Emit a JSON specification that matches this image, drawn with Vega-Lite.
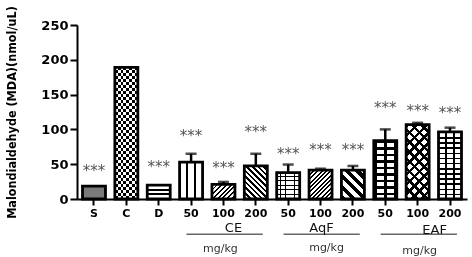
{
"$schema": "https://vega.github.io/schema/vega-lite/v6.json",
"width": 390, "height": 174,
"autosize": {"type": "none"},
"padding": {"left": 77, "top": 25, "right": 5, "bottom": 58},
"background": "white",
"config": {"view": {"stroke": null}, "axis": {"grid": false}},
"datasets": {"main": [
{"g":"S","v":18.5,"err":null,"star":46.4},
{"g":"C","v":189,"err":null,"star":null},
{"g":"D","v":20,"err":null,"star":51.7},
{"g":"CE50","v":53,"err":65,"star":96.7},
{"g":"CE100","v":21,"err":24.5,"star":49.9},
{"g":"CE200","v":47.5,"err":65,"star":101.6},
{"g":"AqF50","v":38,"err":49.5,"star":70.4},
{"g":"AqF100","v":41.5,"err":43.5,"star":76.1},
{"g":"AqF200","v":41.5,"err":47.5,"star":76.1},
{"g":"EAF50","v":84,"err":100,"star":136.5},
{"g":"EAF100","v":107,"err":109.5,"star":132.6},
{"g":"EAF200","v":96.5,"err":102.5,"star":128.9}
]},
"layer": [
{
"data": {"name": "main"},
"mark": {"type": "bar", "strokeWidth": 0},
"encoding": {
"x": {"field": "g", "type": "nominal",
 "scale": {"domain": ["S","C","D","CE50","CE100","CE200","AqF50","AqF100","AqF200","EAF50","EAF100","EAF200"], "paddingInner": 0.29, "paddingOuter": 0.17},
 "axis": {"title": null, "labelAngle": 0, "labelFont": "DejaVu Sans", "labelFontWeight": "bold", "labelFontSize": 11, "labelColor": "#000", "labelPadding": 2, "domainColor": "#000", "domainWidth": 2, "tickColor": "#000", "tickWidth": 2, "tickSize": 6, "bandPosition": 0.5,
 "labelExpr": "replace(replace(replace(datum.label,'CE',''),'AqF',''),'EAF','')"}},
"y": {"field": "v", "type": "quantitative",
 "scale": {"domain": [0, 250], "nice": false},
 "axis": {"title": "Malondialdehyde (MDA)(nmol/uL)", "values": [0,50,100,150,200,250], "labelOverlap": false, "labelFont": "DejaVu Sans", "labelFontWeight": "bold", "labelFontSize": 13, "labelColor": "#000", "labelPadding": 2, "domainColor": "#000", "domainWidth": 2, "tickColor": "#000", "tickWidth": 2, "tickSize": 7, "titleFont": "DejaVu Sans Condensed", "titleFontWeight": "bold", "titleFontSize": 12.5, "titleColor": "#000", "titlePadding": 22}},
"fill": {"condition": [
 {"test": "datum.g==='S'", "value": "#7a7a7a"},
 {"test": "datum.g==='C'", "value": {"gradient":"linear","x1":0,"y1":0,"x2":1,"y2":0,"stops":[
  {"offset":0,"color":"#000"},{"offset":0.125,"color":"#000"},{"offset":0.125,"color":"#fff"},{"offset":0.25,"color":"#fff"},
  {"offset":0.25,"color":"#000"},{"offset":0.375,"color":"#000"},{"offset":0.375,"color":"#fff"},{"offset":0.5,"color":"#fff"},
  {"offset":0.5,"color":"#000"},{"offset":0.625,"color":"#000"},{"offset":0.625,"color":"#fff"},{"offset":0.75,"color":"#fff"},
  {"offset":0.75,"color":"#000"},{"offset":0.875,"color":"#000"},{"offset":0.875,"color":"#fff"},{"offset":1,"color":"#fff"}]}},
 {"test": "datum.g==='D'", "value": {"gradient":"linear","x1":0,"y1":0,"x2":0,"y2":1,"stops":[
  {"offset":0,"color":"#fff"},{"offset":0.28,"color":"#fff"},{"offset":0.28,"color":"#000"},{"offset":0.4,"color":"#000"},
  {"offset":0.4,"color":"#fff"},{"offset":0.6,"color":"#fff"},{"offset":0.6,"color":"#000"},{"offset":0.72,"color":"#000"},
  {"offset":0.72,"color":"#fff"},{"offset":1,"color":"#fff"}]}},
 {"test": "datum.g==='CE50'", "value": {"gradient":"linear","x1":0,"y1":0,"x2":1,"y2":0,"stops":[
  {"offset":0,"color":"#fff"},{"offset":0.3,"color":"#fff"},{"offset":0.3,"color":"#000"},{"offset":0.38,"color":"#000"},
  {"offset":0.38,"color":"#fff"},{"offset":0.62,"color":"#fff"},{"offset":0.62,"color":"#000"},{"offset":0.7,"color":"#000"},
  {"offset":0.7,"color":"#fff"},{"offset":1,"color":"#fff"}]}},
 {"test": "datum.g==='CE100'", "value": {"gradient":"linear","x1":0,"y1":0,"x2":1.165,"y2":0.74,"stops":[
  {"offset":0,"color":"#000"},{"offset":0.05,"color":"#000"},{"offset":0.05,"color":"#fff"},{"offset":0.125,"color":"#fff"},
  {"offset":0.125,"color":"#000"},{"offset":0.175,"color":"#000"},{"offset":0.175,"color":"#fff"},{"offset":0.25,"color":"#fff"},
  {"offset":0.25,"color":"#000"},{"offset":0.3,"color":"#000"},{"offset":0.3,"color":"#fff"},{"offset":0.375,"color":"#fff"},
  {"offset":0.375,"color":"#000"},{"offset":0.425,"color":"#000"},{"offset":0.425,"color":"#fff"},{"offset":0.5,"color":"#fff"},
  {"offset":0.5,"color":"#000"},{"offset":0.55,"color":"#000"},{"offset":0.55,"color":"#fff"},{"offset":0.625,"color":"#fff"},
  {"offset":0.625,"color":"#000"},{"offset":0.675,"color":"#000"},{"offset":0.675,"color":"#fff"},{"offset":0.75,"color":"#fff"},
  {"offset":0.75,"color":"#000"},{"offset":0.8,"color":"#000"},{"offset":0.8,"color":"#fff"},{"offset":0.875,"color":"#fff"},
  {"offset":0.875,"color":"#000"},{"offset":0.925,"color":"#000"},{"offset":0.925,"color":"#fff"},{"offset":1,"color":"#fff"}]}},
 {"test": "datum.g==='CE200'", "value": {"gradient":"linear","x1":0,"y1":1,"x2":0.794,"y2":-0.143,"stops":[
  {"offset":0,"color":"#000"},{"offset":0.045,"color":"#000"},{"offset":0.045,"color":"#fff"},{"offset":0.1,"color":"#fff"},
  {"offset":0.1,"color":"#000"},{"offset":0.145,"color":"#000"},{"offset":0.145,"color":"#fff"},{"offset":0.2,"color":"#fff"},
  {"offset":0.2,"color":"#000"},{"offset":0.245,"color":"#000"},{"offset":0.245,"color":"#fff"},{"offset":0.3,"color":"#fff"},
  {"offset":0.3,"color":"#000"},{"offset":0.345,"color":"#000"},{"offset":0.345,"color":"#fff"},{"offset":0.4,"color":"#fff"},
  {"offset":0.4,"color":"#000"},{"offset":0.445,"color":"#000"},{"offset":0.445,"color":"#fff"},{"offset":0.5,"color":"#fff"},
  {"offset":0.5,"color":"#000"},{"offset":0.545,"color":"#000"},{"offset":0.545,"color":"#fff"},{"offset":0.6,"color":"#fff"},
  {"offset":0.6,"color":"#000"},{"offset":0.645,"color":"#000"},{"offset":0.645,"color":"#fff"},{"offset":0.7,"color":"#fff"},
  {"offset":0.7,"color":"#000"},{"offset":0.745,"color":"#000"},{"offset":0.745,"color":"#fff"},{"offset":0.8,"color":"#fff"},
  {"offset":0.8,"color":"#000"},{"offset":0.845,"color":"#000"},{"offset":0.845,"color":"#fff"},{"offset":0.9,"color":"#fff"},
  {"offset":0.9,"color":"#000"},{"offset":0.945,"color":"#000"},{"offset":0.945,"color":"#fff"},{"offset":1,"color":"#fff"}]}},
 {"test": "datum.g==='AqF50'", "value": {"gradient":"linear","x1":0,"y1":0,"x2":1,"y2":0,"stops":[
  {"offset":0,"color":"#fff"},{"offset":0.16,"color":"#fff"},{"offset":0.16,"color":"#000"},{"offset":0.2,"color":"#000"},
  {"offset":0.2,"color":"#fff"},{"offset":0.36,"color":"#fff"},{"offset":0.36,"color":"#000"},{"offset":0.4,"color":"#000"},
  {"offset":0.4,"color":"#fff"},{"offset":0.56,"color":"#fff"},{"offset":0.56,"color":"#000"},{"offset":0.6,"color":"#000"},
  {"offset":0.6,"color":"#fff"},{"offset":0.76,"color":"#fff"},{"offset":0.76,"color":"#000"},{"offset":0.8,"color":"#000"},
  {"offset":0.8,"color":"#fff"},{"offset":1,"color":"#fff"}]}},
 {"test": "datum.g==='AqF100'", "value": {"gradient":"linear","x1":0,"y1":0,"x2":0.875,"y2":1.1,"stops":[
  {"offset":0,"color":"#000"},{"offset":0.0417,"color":"#000"},{"offset":0.0417,"color":"#fff"},{"offset":0.0833,"color":"#fff"},
  {"offset":0.0833,"color":"#000"},{"offset":0.125,"color":"#000"},{"offset":0.125,"color":"#fff"},{"offset":0.1667,"color":"#fff"},
  {"offset":0.1667,"color":"#000"},{"offset":0.2083,"color":"#000"},{"offset":0.2083,"color":"#fff"},{"offset":0.25,"color":"#fff"},
  {"offset":0.25,"color":"#000"},{"offset":0.2917,"color":"#000"},{"offset":0.2917,"color":"#fff"},{"offset":0.3333,"color":"#fff"},
  {"offset":0.3333,"color":"#000"},{"offset":0.375,"color":"#000"},{"offset":0.375,"color":"#fff"},{"offset":0.4167,"color":"#fff"},
  {"offset":0.4167,"color":"#000"},{"offset":0.4583,"color":"#000"},{"offset":0.4583,"color":"#fff"},{"offset":0.5,"color":"#fff"},
  {"offset":0.5,"color":"#000"},{"offset":0.5417,"color":"#000"},{"offset":0.5417,"color":"#fff"},{"offset":0.5833,"color":"#fff"},
  {"offset":0.5833,"color":"#000"},{"offset":0.625,"color":"#000"},{"offset":0.625,"color":"#fff"},{"offset":0.6667,"color":"#fff"},
  {"offset":0.6667,"color":"#000"},{"offset":0.7083,"color":"#000"},{"offset":0.7083,"color":"#fff"},{"offset":0.75,"color":"#fff"},
  {"offset":0.75,"color":"#000"},{"offset":0.7917,"color":"#000"},{"offset":0.7917,"color":"#fff"},{"offset":0.8333,"color":"#fff"},
  {"offset":0.8333,"color":"#000"},{"offset":0.875,"color":"#000"},{"offset":0.875,"color":"#fff"},{"offset":0.9167,"color":"#fff"},
  {"offset":0.9167,"color":"#000"},{"offset":0.9583,"color":"#000"},{"offset":0.9583,"color":"#fff"},{"offset":1,"color":"#fff"}]}},
 {"test": "datum.g==='AqF200'", "value": {"gradient":"linear","x1":0,"y1":1,"x2":0.875,"y2":-0.1,"stops":[
  {"offset":0,"color":"#000"},{"offset":0.1,"color":"#000"},{"offset":0.1,"color":"#fff"},{"offset":0.2,"color":"#fff"},
  {"offset":0.2,"color":"#000"},{"offset":0.3,"color":"#000"},{"offset":0.3,"color":"#fff"},{"offset":0.4,"color":"#fff"},
  {"offset":0.4,"color":"#000"},{"offset":0.5,"color":"#000"},{"offset":0.5,"color":"#fff"},{"offset":0.6,"color":"#fff"},
  {"offset":0.6,"color":"#000"},{"offset":0.7,"color":"#000"},{"offset":0.7,"color":"#fff"},{"offset":0.8,"color":"#fff"},
  {"offset":0.8,"color":"#000"},{"offset":0.9,"color":"#000"},{"offset":0.9,"color":"#fff"},{"offset":1,"color":"#fff"}]}},
 {"test": "datum.g==='EAF50'", "value": {"gradient":"linear","x1":0,"y1":0,"x2":1,"y2":0,"stops":[
  {"offset":0,"color":"#000"},{"offset":0.12,"color":"#000"},{"offset":0.12,"color":"#fff"},{"offset":0.44,"color":"#fff"},
  {"offset":0.44,"color":"#000"},{"offset":0.56,"color":"#000"},{"offset":0.56,"color":"#fff"},{"offset":0.88,"color":"#fff"},
  {"offset":0.88,"color":"#000"},{"offset":1,"color":"#000"}]}},
 {"test": "datum.g==='EAF100'", "value": {"gradient":"linear","x1":0,"y1":0,"x2":0.369,"y2":1.195,"stops":[
  {"offset":0,"color":"#000"},{"offset":0.035,"color":"#000"},{"offset":0.035,"color":"#fff"},{"offset":0.1,"color":"#fff"},
  {"offset":0.1,"color":"#000"},{"offset":0.135,"color":"#000"},{"offset":0.135,"color":"#fff"},{"offset":0.2,"color":"#fff"},
  {"offset":0.2,"color":"#000"},{"offset":0.235,"color":"#000"},{"offset":0.235,"color":"#fff"},{"offset":0.3,"color":"#fff"},
  {"offset":0.3,"color":"#000"},{"offset":0.335,"color":"#000"},{"offset":0.335,"color":"#fff"},{"offset":0.4,"color":"#fff"},
  {"offset":0.4,"color":"#000"},{"offset":0.435,"color":"#000"},{"offset":0.435,"color":"#fff"},{"offset":0.5,"color":"#fff"},
  {"offset":0.5,"color":"#000"},{"offset":0.535,"color":"#000"},{"offset":0.535,"color":"#fff"},{"offset":0.6,"color":"#fff"},
  {"offset":0.6,"color":"#000"},{"offset":0.635,"color":"#000"},{"offset":0.635,"color":"#fff"},{"offset":0.7,"color":"#fff"},
  {"offset":0.7,"color":"#000"},{"offset":0.735,"color":"#000"},{"offset":0.735,"color":"#fff"},{"offset":0.8,"color":"#fff"},
  {"offset":0.8,"color":"#000"},{"offset":0.835,"color":"#000"},{"offset":0.835,"color":"#fff"},{"offset":0.9,"color":"#fff"},
  {"offset":0.9,"color":"#000"},{"offset":0.935,"color":"#000"},{"offset":0.935,"color":"#fff"},{"offset":1,"color":"#fff"}]}},
 {"test": "datum.g==='EAF200'", "value": {"gradient":"linear","x1":0,"y1":0,"x2":0,"y2":1,"stops":[
  {"offset":0,"color":"#000"},{"offset":0.0231,"color":"#000"},{"offset":0.0231,"color":"#fff"},{"offset":0.0769,"color":"#fff"},
  {"offset":0.0769,"color":"#000"},{"offset":0.1,"color":"#000"},{"offset":0.1,"color":"#fff"},{"offset":0.1538,"color":"#fff"},
  {"offset":0.1538,"color":"#000"},{"offset":0.1769,"color":"#000"},{"offset":0.1769,"color":"#fff"},{"offset":0.2308,"color":"#fff"},
  {"offset":0.2308,"color":"#000"},{"offset":0.2538,"color":"#000"},{"offset":0.2538,"color":"#fff"},{"offset":0.3077,"color":"#fff"},
  {"offset":0.3077,"color":"#000"},{"offset":0.3308,"color":"#000"},{"offset":0.3308,"color":"#fff"},{"offset":0.3846,"color":"#fff"},
  {"offset":0.3846,"color":"#000"},{"offset":0.4077,"color":"#000"},{"offset":0.4077,"color":"#fff"},{"offset":0.4615,"color":"#fff"},
  {"offset":0.4615,"color":"#000"},{"offset":0.4846,"color":"#000"},{"offset":0.4846,"color":"#fff"},{"offset":0.5385,"color":"#fff"},
  {"offset":0.5385,"color":"#000"},{"offset":0.5615,"color":"#000"},{"offset":0.5615,"color":"#fff"},{"offset":0.6154,"color":"#fff"},
  {"offset":0.6154,"color":"#000"},{"offset":0.6385,"color":"#000"},{"offset":0.6385,"color":"#fff"},{"offset":0.6923,"color":"#fff"},
  {"offset":0.6923,"color":"#000"},{"offset":0.7154,"color":"#000"},{"offset":0.7154,"color":"#fff"},{"offset":0.7692,"color":"#fff"},
  {"offset":0.7692,"color":"#000"},{"offset":0.7923,"color":"#000"},{"offset":0.7923,"color":"#fff"},{"offset":0.8462,"color":"#fff"},
  {"offset":0.8462,"color":"#000"},{"offset":0.8692,"color":"#000"},{"offset":0.8692,"color":"#fff"},{"offset":0.9231,"color":"#fff"},
  {"offset":0.9231,"color":"#000"},{"offset":0.9462,"color":"#000"},{"offset":0.9462,"color":"#fff"},{"offset":1,"color":"#fff"}]}}
 ], "value": "#fff"}
}
},
{
"data": {"name": "main"},
"transform": [{"filter": "indexof(['AqF50','EAF50','EAF100','EAF200'], datum.g) >= 0"}],
"mark": {"type": "bar", "strokeWidth": 0, "blend": "multiply"},
"encoding": {
"x": {"field": "g", "type": "nominal"},
"y": {"field": "v", "type": "quantitative", "axis": {"values": [0,50,100,150,200,250]}},
"fill": {"condition": [
 {"test": "datum.g==='AqF50'", "value": {"gradient":"linear","x1":0,"y1":0,"x2":0,"y2":1,"stops":[
  {"offset":0,"color":"#fff"},{"offset":0.133,"color":"#fff"},{"offset":0.133,"color":"#000"},{"offset":0.1667,"color":"#000"},
  {"offset":0.1667,"color":"#fff"},{"offset":0.3,"color":"#fff"},{"offset":0.3,"color":"#000"},{"offset":0.3333,"color":"#000"},
  {"offset":0.3333,"color":"#fff"},{"offset":0.4667,"color":"#fff"},{"offset":0.4667,"color":"#000"},{"offset":0.5,"color":"#000"},
  {"offset":0.5,"color":"#fff"},{"offset":0.6333,"color":"#fff"},{"offset":0.6333,"color":"#000"},{"offset":0.6667,"color":"#000"},
  {"offset":0.6667,"color":"#fff"},{"offset":0.8,"color":"#fff"},{"offset":0.8,"color":"#000"},{"offset":0.8333,"color":"#000"},
  {"offset":0.8333,"color":"#fff"},{"offset":1,"color":"#fff"}]}},
 {"test": "datum.g==='EAF50'", "value": {"gradient":"linear","x1":0,"y1":0,"x2":0,"y2":1,"stops":[
  {"offset":0,"color":"#000"},{"offset":0.05,"color":"#000"},{"offset":0.05,"color":"#fff"},{"offset":0.1111,"color":"#fff"},
  {"offset":0.1111,"color":"#000"},{"offset":0.1611,"color":"#000"},{"offset":0.1611,"color":"#fff"},{"offset":0.2222,"color":"#fff"},
  {"offset":0.2222,"color":"#000"},{"offset":0.2722,"color":"#000"},{"offset":0.2722,"color":"#fff"},{"offset":0.3333,"color":"#fff"},
  {"offset":0.3333,"color":"#000"},{"offset":0.3833,"color":"#000"},{"offset":0.3833,"color":"#fff"},{"offset":0.4444,"color":"#fff"},
  {"offset":0.4444,"color":"#000"},{"offset":0.4944,"color":"#000"},{"offset":0.4944,"color":"#fff"},{"offset":0.5556,"color":"#fff"},
  {"offset":0.5556,"color":"#000"},{"offset":0.6056,"color":"#000"},{"offset":0.6056,"color":"#fff"},{"offset":0.6667,"color":"#fff"},
  {"offset":0.6667,"color":"#000"},{"offset":0.7167,"color":"#000"},{"offset":0.7167,"color":"#fff"},{"offset":0.7778,"color":"#fff"},
  {"offset":0.7778,"color":"#000"},{"offset":0.8278,"color":"#000"},{"offset":0.8278,"color":"#fff"},{"offset":0.8889,"color":"#fff"},
  {"offset":0.8889,"color":"#000"},{"offset":0.9389,"color":"#000"},{"offset":0.9389,"color":"#fff"},{"offset":1,"color":"#fff"}]}},
 {"test": "datum.g==='EAF100'", "value": {"gradient":"linear","x1":0,"y1":1,"x2":0.369,"y2":-0.195,"stops":[
  {"offset":0,"color":"#000"},{"offset":0.035,"color":"#000"},{"offset":0.035,"color":"#fff"},{"offset":0.1,"color":"#fff"},
  {"offset":0.1,"color":"#000"},{"offset":0.135,"color":"#000"},{"offset":0.135,"color":"#fff"},{"offset":0.2,"color":"#fff"},
  {"offset":0.2,"color":"#000"},{"offset":0.235,"color":"#000"},{"offset":0.235,"color":"#fff"},{"offset":0.3,"color":"#fff"},
  {"offset":0.3,"color":"#000"},{"offset":0.335,"color":"#000"},{"offset":0.335,"color":"#fff"},{"offset":0.4,"color":"#fff"},
  {"offset":0.4,"color":"#000"},{"offset":0.435,"color":"#000"},{"offset":0.435,"color":"#fff"},{"offset":0.5,"color":"#fff"},
  {"offset":0.5,"color":"#000"},{"offset":0.535,"color":"#000"},{"offset":0.535,"color":"#fff"},{"offset":0.6,"color":"#fff"},
  {"offset":0.6,"color":"#000"},{"offset":0.635,"color":"#000"},{"offset":0.635,"color":"#fff"},{"offset":0.7,"color":"#fff"},
  {"offset":0.7,"color":"#000"},{"offset":0.735,"color":"#000"},{"offset":0.735,"color":"#fff"},{"offset":0.8,"color":"#fff"},
  {"offset":0.8,"color":"#000"},{"offset":0.835,"color":"#000"},{"offset":0.835,"color":"#fff"},{"offset":0.9,"color":"#fff"},
  {"offset":0.9,"color":"#000"},{"offset":0.935,"color":"#000"},{"offset":0.935,"color":"#fff"},{"offset":1,"color":"#fff"}]}},
 {"test": "datum.g==='EAF200'", "value": {"gradient":"linear","x1":0,"y1":0,"x2":1,"y2":0,"stops":[
  {"offset":0,"color":"#fff"},{"offset":0.3,"color":"#fff"},{"offset":0.3,"color":"#000"},{"offset":0.36,"color":"#000"},
  {"offset":0.36,"color":"#fff"},{"offset":0.64,"color":"#fff"},{"offset":0.64,"color":"#000"},{"offset":0.7,"color":"#000"},
  {"offset":0.7,"color":"#fff"},{"offset":1,"color":"#fff"}]}}
 ], "value": "#fff"}
}
},
{
"data": {"name": "main"},
"transform": [{"filter": "datum.g === 'C'"}],
"mark": {"type": "bar", "strokeWidth": 0, "blend": "difference",
 "fill": {"gradient":"linear","x1":0,"y1":0,"x2":0,"y2":1,"stops":[
  {"offset":0,"color":"#fff"},{"offset":0.0227,"color":"#fff"},{"offset":0.0227,"color":"#000"},{"offset":0.0455,"color":"#000"},
  {"offset":0.0455,"color":"#fff"},{"offset":0.0682,"color":"#fff"},{"offset":0.0682,"color":"#000"},{"offset":0.0909,"color":"#000"},
  {"offset":0.0909,"color":"#fff"},{"offset":0.1136,"color":"#fff"},{"offset":0.1136,"color":"#000"},{"offset":0.1364,"color":"#000"},
  {"offset":0.1364,"color":"#fff"},{"offset":0.1591,"color":"#fff"},{"offset":0.1591,"color":"#000"},{"offset":0.1818,"color":"#000"},
  {"offset":0.1818,"color":"#fff"},{"offset":0.2045,"color":"#fff"},{"offset":0.2045,"color":"#000"},{"offset":0.2273,"color":"#000"},
  {"offset":0.2273,"color":"#fff"},{"offset":0.25,"color":"#fff"},{"offset":0.25,"color":"#000"},{"offset":0.2727,"color":"#000"},
  {"offset":0.2727,"color":"#fff"},{"offset":0.2955,"color":"#fff"},{"offset":0.2955,"color":"#000"},{"offset":0.3182,"color":"#000"},
  {"offset":0.3182,"color":"#fff"},{"offset":0.3409,"color":"#fff"},{"offset":0.3409,"color":"#000"},{"offset":0.3636,"color":"#000"},
  {"offset":0.3636,"color":"#fff"},{"offset":0.3864,"color":"#fff"},{"offset":0.3864,"color":"#000"},{"offset":0.4091,"color":"#000"},
  {"offset":0.4091,"color":"#fff"},{"offset":0.4318,"color":"#fff"},{"offset":0.4318,"color":"#000"},{"offset":0.4545,"color":"#000"},
  {"offset":0.4545,"color":"#fff"},{"offset":0.4773,"color":"#fff"},{"offset":0.4773,"color":"#000"},{"offset":0.5,"color":"#000"},
  {"offset":0.5,"color":"#fff"},{"offset":0.5227,"color":"#fff"},{"offset":0.5227,"color":"#000"},{"offset":0.5455,"color":"#000"},
  {"offset":0.5455,"color":"#fff"},{"offset":0.5682,"color":"#fff"},{"offset":0.5682,"color":"#000"},{"offset":0.5909,"color":"#000"},
  {"offset":0.5909,"color":"#fff"},{"offset":0.6136,"color":"#fff"},{"offset":0.6136,"color":"#000"},{"offset":0.6364,"color":"#000"},
  {"offset":0.6364,"color":"#fff"},{"offset":0.6591,"color":"#fff"},{"offset":0.6591,"color":"#000"},{"offset":0.6818,"color":"#000"},
  {"offset":0.6818,"color":"#fff"},{"offset":0.7045,"color":"#fff"},{"offset":0.7045,"color":"#000"},{"offset":0.7273,"color":"#000"},
  {"offset":0.7273,"color":"#fff"},{"offset":0.75,"color":"#fff"},{"offset":0.75,"color":"#000"},{"offset":0.7727,"color":"#000"},
  {"offset":0.7727,"color":"#fff"},{"offset":0.7955,"color":"#fff"},{"offset":0.7955,"color":"#000"},{"offset":0.8182,"color":"#000"},
  {"offset":0.8182,"color":"#fff"},{"offset":0.8409,"color":"#fff"},{"offset":0.8409,"color":"#000"},{"offset":0.8636,"color":"#000"},
  {"offset":0.8636,"color":"#fff"},{"offset":0.8864,"color":"#fff"},{"offset":0.8864,"color":"#000"},{"offset":0.9091,"color":"#000"},
  {"offset":0.9091,"color":"#fff"},{"offset":0.9318,"color":"#fff"},{"offset":0.9318,"color":"#000"},{"offset":0.9545,"color":"#000"},
  {"offset":0.9545,"color":"#fff"},{"offset":0.9773,"color":"#fff"},{"offset":0.9773,"color":"#000"},{"offset":1,"color":"#000"}]}},
"encoding": {
"x": {"field": "g", "type": "nominal"},
"y": {"field": "v", "type": "quantitative", "axis": {"values": [0,50,100,150,200,250]}}
}
},
{
"data": {"name": "main"},
"mark": {"type": "bar", "fill": "transparent", "stroke": "#000", "strokeWidth": 2.8},
"encoding": {
"x": {"field": "g", "type": "nominal"},
"y": {"field": "v", "type": "quantitative", "axis": {"values": [0,50,100,150,200,250]}}
}
},
{
"data": {"name": "main"},
"transform": [{"filter": "datum.err != null"}],
"mark": {"type": "rule", "color": "#000", "strokeWidth": 2.5},
"encoding": {
"x": {"field": "g", "type": "nominal"},
"y": {"field": "v", "type": "quantitative", "axis": {"values": [0,50,100,150,200,250]}},
"y2": {"field": "err"}
}
},
{
"data": {"name": "main"},
"transform": [{"filter": "datum.err != null"}],
"mark": {"type": "tick", "color": "#000", "thickness": 2.5, "size": 11},
"encoding": {
"x": {"field": "g", "type": "nominal"},
"y": {"field": "err", "type": "quantitative", "axis": {"values": [0,50,100,150,200,250]}}
}
},
{
"data": {"name": "main"},
"transform": [{"filter": "datum.star != null"}],
"mark": {"type": "text", "font": "DejaVu Sans", "fontSize": 15, "color": "#555", "baseline": "alphabetic", "dy": 9},
"encoding": {
"x": {"field": "g", "type": "nominal"},
"y": {"field": "star", "type": "quantitative", "axis": {"values": [0,50,100,150,200,250]}},
"text": {"value": "***"}
}
},
{
"data": {"values": [{"g": "CE50", "h": "CE200"}, {"g": "AqF50", "h": "AqF200"}, {"g": "EAF50", "h": "EAF200"}]},
"mark": {"type": "rule", "color": "#666", "strokeWidth": 1.5},
"encoding": {
"x": {"field": "g", "type": "nominal", "bandPosition": 0.3},
"x2": {"field": "h", "bandPosition": 0.8},
"y": {"datum": -50.5, "type": "quantitative", "axis": {"values": [0,50,100,150,200,250]}}
}
},
{
"data": {"values": [{"g": "CE100"}]},
"mark": {"type": "text", "font": "DejaVu Sans", "fontSize": 13, "color": "#111", "baseline": "middle", "dx": 10},
"encoding": {"x": {"field": "g", "type": "nominal"}, "y": {"datum": -41, "type": "quantitative", "axis": {"values": [0,50,100,150,200,250]}}, "text": {"value": "CE"}}
},
{
"data": {"values": [{"g": "AqF100"}]},
"mark": {"type": "text", "font": "DejaVu Sans", "fontSize": 13, "color": "#111", "baseline": "middle", "dx": 1},
"encoding": {"x": {"field": "g", "type": "nominal"}, "y": {"datum": -41, "type": "quantitative", "axis": {"values": [0,50,100,150,200,250]}}, "text": {"value": "AqF"}}
},
{
"data": {"values": [{"g": "EAF100"}]},
"mark": {"type": "text", "font": "DejaVu Sans", "fontSize": 13, "color": "#111", "baseline": "middle", "dx": 17},
"encoding": {"x": {"field": "g", "type": "nominal"}, "y": {"datum": -45, "type": "quantitative", "axis": {"values": [0,50,100,150,200,250]}}, "text": {"value": "EAF"}}
},
{
"data": {"values": [{"g": "CE100"}]},
"mark": {"type": "text", "font": "DejaVu Sans", "fontSize": 11, "color": "#333", "baseline": "middle", "dx": -3},
"encoding": {"x": {"field": "g", "type": "nominal"}, "y": {"datum": -71.8, "type": "quantitative", "axis": {"values": [0,50,100,150,200,250]}}, "text": {"value": "mg/kg"}}
},
{
"data": {"values": [{"g": "AqF100"}]},
"mark": {"type": "text", "font": "DejaVu Sans", "fontSize": 11, "color": "#333", "baseline": "middle", "dx": 6},
"encoding": {"x": {"field": "g", "type": "nominal"}, "y": {"datum": -70.4, "type": "quantitative", "axis": {"values": [0,50,100,150,200,250]}}, "text": {"value": "mg/kg"}}
},
{
"data": {"values": [{"g": "EAF100"}]},
"mark": {"type": "text", "font": "DejaVu Sans", "fontSize": 11, "color": "#333", "baseline": "middle", "dx": 2},
"encoding": {"x": {"field": "g", "type": "nominal"}, "y": {"datum": -74.7, "type": "quantitative", "axis": {"values": [0,50,100,150,200,250]}}, "text": {"value": "mg/kg"}}
}
]
}
